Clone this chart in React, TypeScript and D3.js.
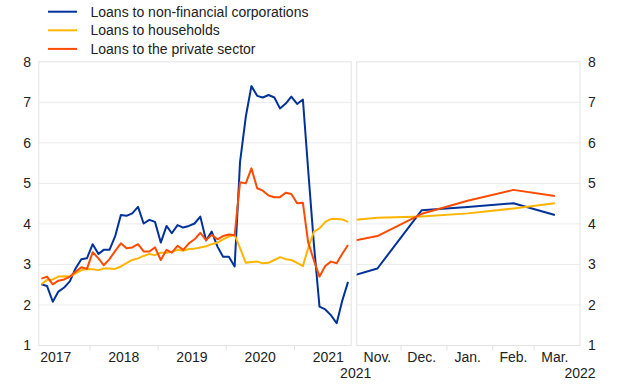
import React from "react";
import * as d3 from "d3";

// monthly annual growth rates, Apr 2017 - Oct 2021
const startMonth = new Date(2017, 3, 15);
const nfcLoans = [2.51, 2.47, 2.08, 2.33, 2.43, 2.59, 2.9, 3.13, 3.15, 3.5, 3.26, 3.36, 3.36, 3.69, 4.22, 4.2, 4.26, 4.42, 4.01, 4.1, 4.05, 3.54, 3.95, 3.77, 3.97, 3.91, 3.95, 4.01, 4.18, 3.59, 3.81, 3.44, 3.19, 3.19, 2.95, 5.53, 6.65, 7.4, 7.16, 7.12, 7.18, 7.12, 6.85, 6.97, 7.14, 6.96, 7.07, 5.35, 3.5, 1.96, 1.89, 1.75, 1.55, 2.12, 2.57];
const hhLoans = [2.51, 2.62, 2.63, 2.7, 2.71, 2.7, 2.78, 2.86, 2.89, 2.88, 2.86, 2.9, 2.9, 2.89, 2.95, 3.03, 3.11, 3.15, 3.21, 3.26, 3.23, 3.29, 3.29, 3.31, 3.36, 3.34, 3.38, 3.39, 3.42, 3.45, 3.5, 3.54, 3.62, 3.69, 3.73, 3.4, 3.04, 3.06, 3.07, 3.03, 3.04, 3.11, 3.18, 3.13, 3.11, 3.04, 2.96, 3.4, 3.81, 3.89, 4.05, 4.12, 4.12, 4.11, 4.05];
const privLoans = [2.65, 2.7, 2.51, 2.6, 2.63, 2.7, 2.82, 2.93, 2.89, 3.3, 3.15, 2.98, 3.13, 3.33, 3.52, 3.4, 3.42, 3.5, 3.32, 3.32, 3.42, 3.11, 3.36, 3.29, 3.46, 3.36, 3.52, 3.62, 3.78, 3.6, 3.73, 3.62, 3.7, 3.74, 3.72, 5.03, 5.0, 5.37, 4.88, 4.82, 4.7, 4.66, 4.66, 4.77, 4.74, 4.51, 4.52, 3.55, 3.1, 2.7, 2.96, 3.07, 3.03, 3.27, 3.48];

// zoomed panel, Oct 2021 - Mar 2022
const zoomStart = new Date(2021, 9, 15);
const nfcZoom = [2.57, 2.9, 4.34, 4.42, 4.51, 4.22];
const hhZoom = [4.05, 4.15, 4.18, 4.26, 4.38, 4.51];
const privZoom = [3.48, 3.7, 4.25, 4.57, 4.84, 4.69];
const zoomLabels = ["Nov.", "Dec.", "Jan.", "Feb.", "Mar."];

const yTicks = [1, 2, 3, 4, 5, 6, 7, 8];
const yearLabels = [2017, 2018, 2019, 2020, 2021];

const seriesNames = ["Loans to non-financial corporations", "Loans to households", "Loans to the private sector"];
const seriesColors = ["#003299", "#ffb400", "#ff4b00"];

const width = 620;
const height = 387;
const font = "'Liberation Sans', Arial, sans-serif";
const gridColor = "#ebebeb";
const textColor = "#222";

const monthly = (start: Date, vals: number[]) =>
  vals.map((v, i) => ({ date: new Date(start.getFullYear(), start.getMonth() + i, 15), value: v }));

export default function App() {
  const y = d3.scaleLinear().domain([1, 8]).range([345.5, 61.8]);
  const xL = d3.scaleTime().domain([new Date(2017, 3, 1), new Date(2021, 10, 1)]).range([38.8, 351.2]);
  const xR = d3.scaleTime().domain([new Date(2021, 10, 1), new Date(2022, 3, 1)]).range([356.7, 580]);

  const leftSeries = [nfcLoans, hhLoans, privLoans].map((s) => monthly(startMonth, s));
  const rightSeries = [nfcZoom, hhZoom, privZoom].map((s) => monthly(zoomStart, s));

  const lineL = d3.line<{ date: Date; value: number }>().x((d) => xL(d.date)).y((d) => y(d.value));
  const lineR = d3.line<{ date: Date; value: number }>().x((d) => xR(d.date)).y((d) => y(d.value));

  const [l0, l1] = xL.range();
  const [r0, r1] = xR.range();
  const [yb, yt] = y.range();

  const yearTicks = d3.range(2018, 2022).map((yr) => xL(new Date(yr, 0, 1)));
  const monthTicks = d3.range(1, 5).map((m) => xR(new Date(2021, 10 + m, 1)));

  return (
    <svg width={width} height={height} style={{ position: "absolute", left: 0, top: 0, background: "#fff" }} fontFamily={font}>
      <defs>
        <clipPath id="clipL">
          <rect x={l0} y={yt} width={l1 - l0} height={yb - yt} />
        </clipPath>
        <clipPath id="clipR">
          <rect x={r0} y={yt} width={r1 - r0} height={yb - yt} />
        </clipPath>
      </defs>

      {/* legend */}
      {seriesNames.map((name, i) => (
        <g key={name} transform={`translate(0,${11.7 + i * 18.6})`}>
          <line x1={48} x2={77} y1={0} y2={0} stroke={seriesColors[i]} strokeWidth={2} />
          <text x={90.5} y={0} dy="0.35em" fontSize={14} fill={textColor}>{name}</text>
        </g>
      ))}

      {/* grid */}
      {yTicks.slice(1, -1).map((t) => (
        <g key={t}>
          <line x1={l0} x2={l1} y1={y(t)} y2={y(t)} stroke={gridColor} />
          <line x1={r0} x2={r1} y1={y(t)} y2={y(t)} stroke={gridColor} />
        </g>
      ))}
      <rect x={l0} y={yt} width={l1 - l0} height={yb - yt} fill="none" stroke="#e3e3e3" />
      <rect x={r0} y={yt} width={r1 - r0} height={yb - yt} fill="none" stroke="#e3e3e3" />

      {/* small x ticks */}
      {yearTicks.map((x, i) => (
        <line key={"yt" + i} x1={x} x2={x} y1={yb} y2={yb + 5} stroke="#e3e3e3" />
      ))}
      {monthTicks.map((x, i) => (
        <line key={"mt" + i} x1={x} x2={x} y1={yb} y2={yb + 5} stroke="#e3e3e3" />
      ))}

      {/* y labels */}
      {yTicks.map((t) => (
        <g key={"yl" + t}>
          <text x={31} y={y(t)} dy="0.35em" textAnchor="end" fontSize={14} fill={textColor}>{t}</text>
          <text x={588} y={y(t)} dy="0.35em" textAnchor="start" fontSize={14} fill={textColor}>{t}</text>
        </g>
      ))}

      {/* x labels */}
      {yearLabels.map((yr) => (
        <text key={yr} x={xL(new Date(yr, 6, 1))} y={356.7} dy="0.35em" textAnchor="middle" fontSize={14} fill={textColor}>{yr}</text>
      ))}
      {zoomLabels.map((m, i) => (
        <text key={m} x={xR(new Date(2021, 10 + i, 15))} y={356.7} dy="0.35em" textAnchor="middle" fontSize={14} fill={textColor}>{m}</text>
      ))}
      <text x={r0 - 1} y={373.5} dy="0.35em" textAnchor="middle" fontSize={14} fill={textColor}>2021</text>
      <text x={r1} y={373.5} dy="0.35em" textAnchor="middle" fontSize={14} fill={textColor}>2022</text>

      {/* lines */}
      <g clipPath="url(#clipL)">
        {leftSeries.map((s, i) => (
          <path key={i} d={lineL(s) ?? ""} fill="none" stroke={seriesColors[i]} strokeWidth={2} strokeLinejoin="round" />
        ))}
      </g>
      <g clipPath="url(#clipR)">
        {rightSeries.map((s, i) => (
          <path key={i} d={lineR(s) ?? ""} fill="none" stroke={seriesColors[i]} strokeWidth={2} strokeLinejoin="round" />
        ))}
      </g>
    </svg>
  );
}
